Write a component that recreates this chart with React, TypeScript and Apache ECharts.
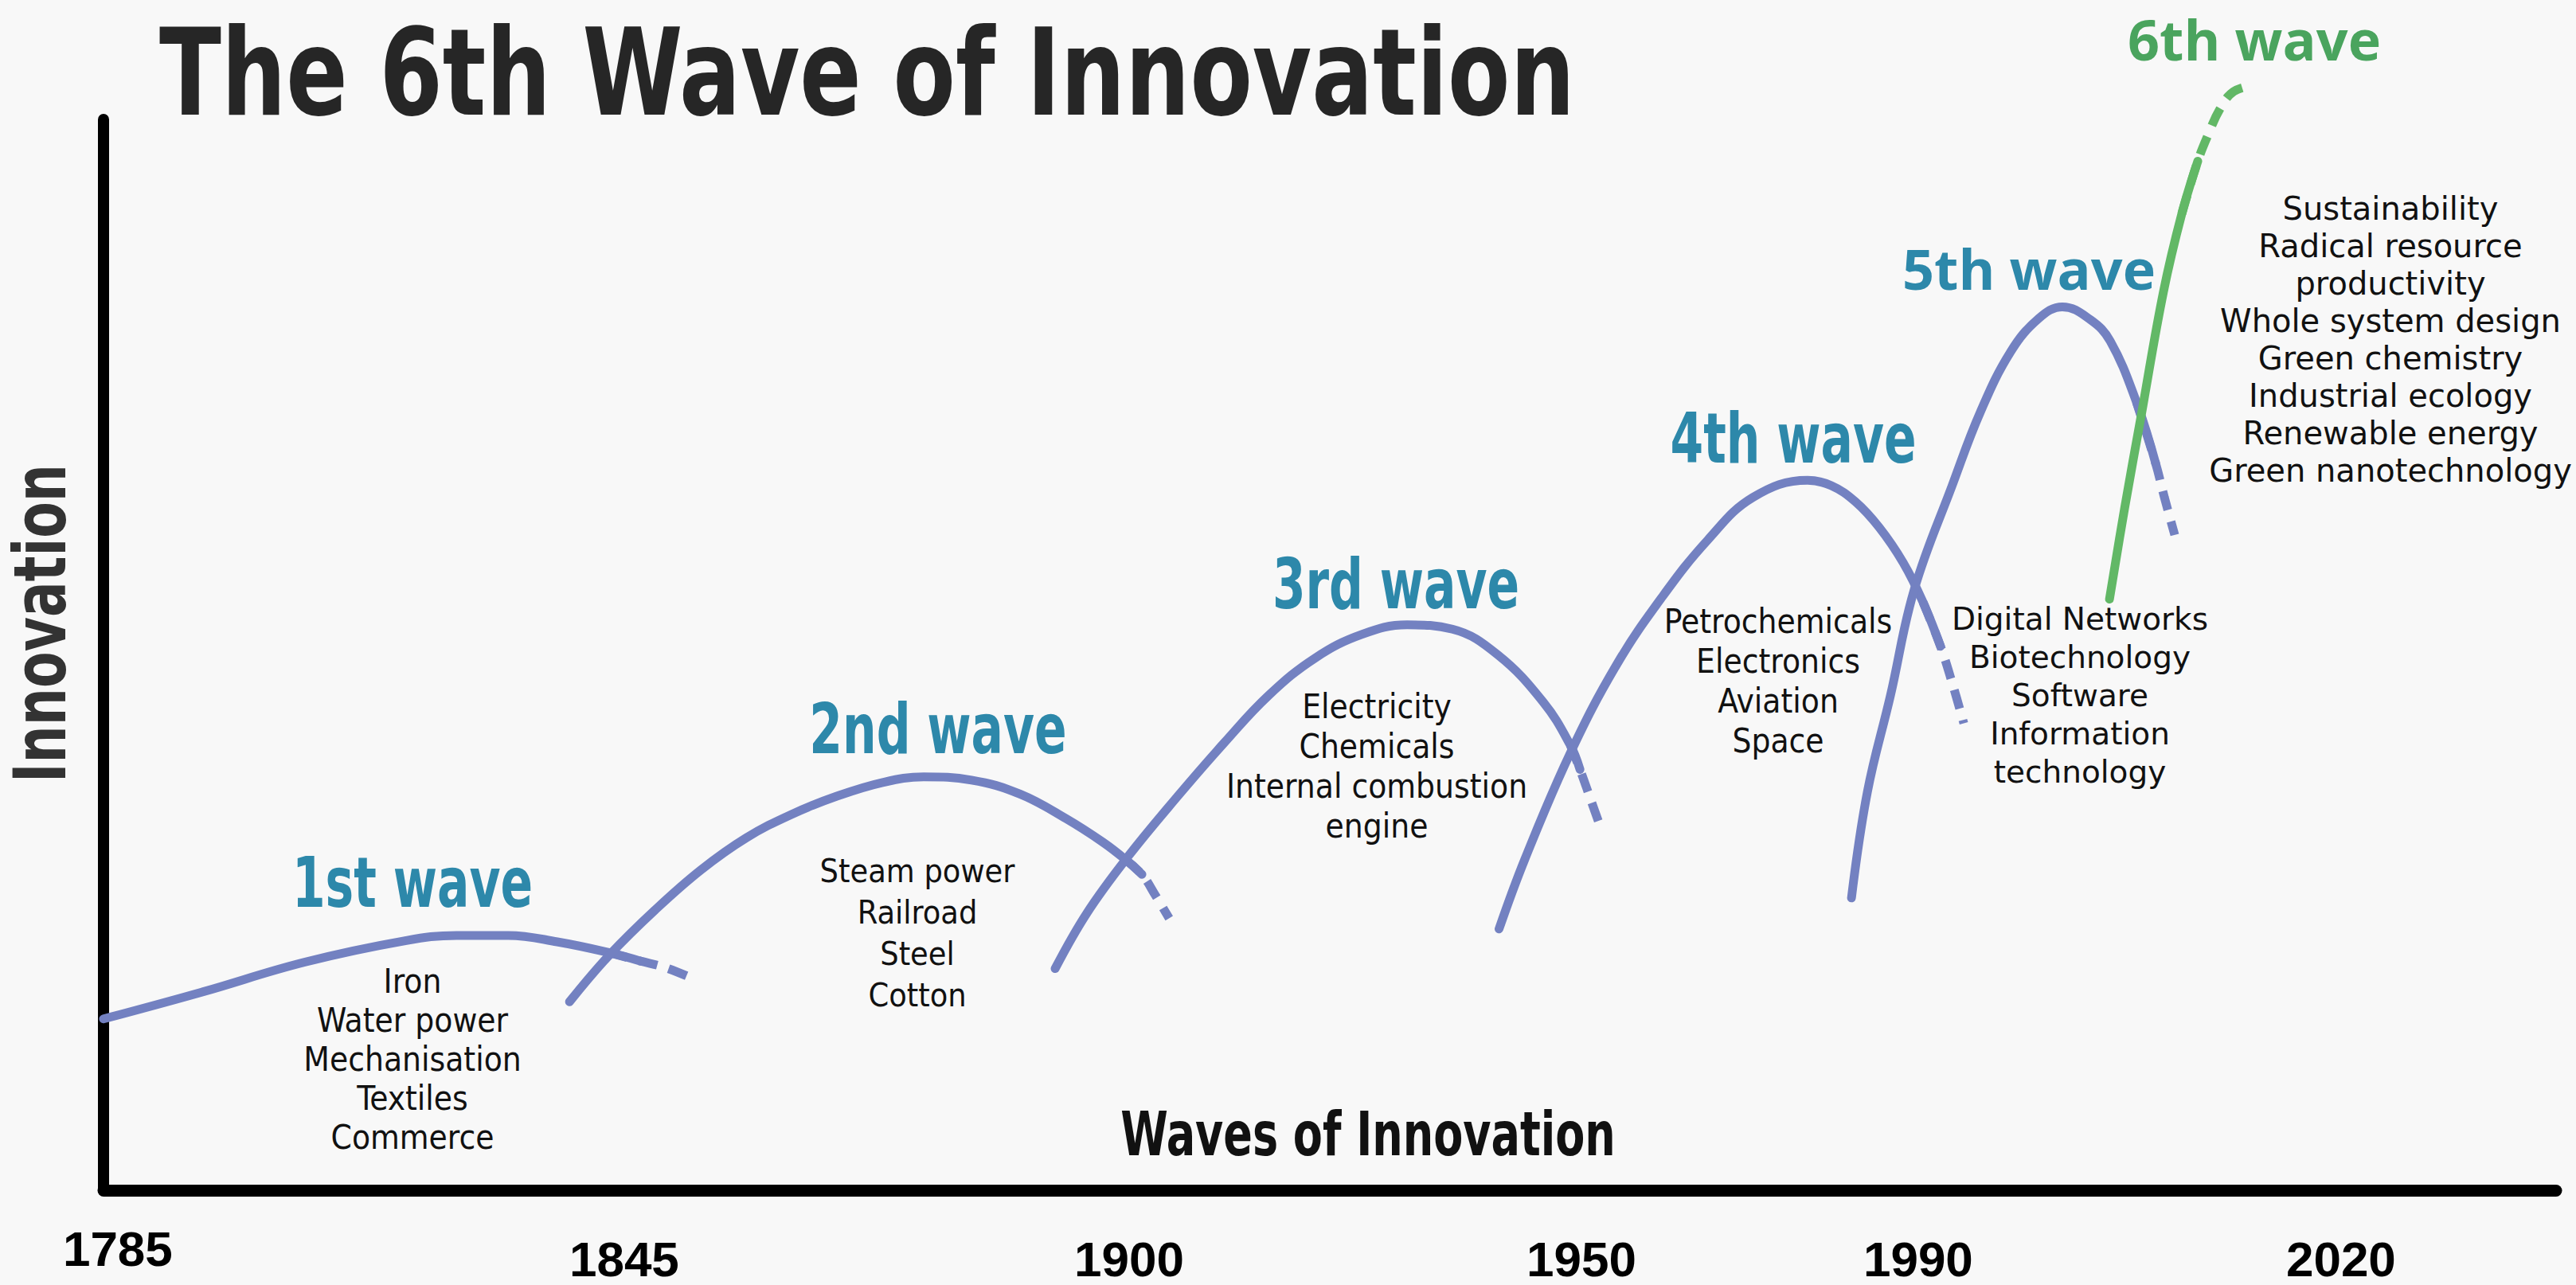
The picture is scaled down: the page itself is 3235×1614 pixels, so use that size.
import React, { useEffect, useRef } from "react";
import * as echarts from "echarts";

const W = 3235;
const H = 1614;

// ---------- data ----------
// x: position along the (non-linear) time axis, 0..1000 ; y: innovation level, 0..100
const yearLabels = ["1785", "1845", "1900", "1950", "1990", "2020"];
const yearPositions = [5.8, 212.3, 418.2, 602.6, 739.9, 912.3];

const waveNames = ["1st wave", "2nd wave", "3rd wave", "4th wave", "5th wave", "6th wave"];
const waveItems = [
  ["Iron", "Water power", "Mechanisation", "Textiles", "Commerce"],
  ["Steam power", "Railroad", "Steel", "Cotton"],
  ["Electricity", "Chemicals", "Internal combustion", "engine"],
  ["Petrochemicals", "Electronics", "Aviation", "Space"],
  ["Digital Networks", "Biotechnology", "Software", "Information", "technology"],
  [
    "Sustainability",
    "Radical resource",
    "productivity",
    "Whole system design",
    "Green chemistry",
    "Industrial ecology",
    "Renewable energy",
    "Green nanotechnology",
  ],
];

const wave1Solid = [[0, 16.0], [40, 18.5], [82, 21.3], [123, 23.3], [144, 23.8], [165, 23.8], [185, 23.2], [206, 22.2], [219, 21.4]];
const wave1Dashed = [[229, 20.8], [241, 19.7]];

const wave2Solid = [[190, 17.6], [206, 21.9], [225, 26.2], [243.5, 29.9], [262, 32.9], [280.5, 35.1], [299, 36.8], [318, 38.1], [334.4, 38.6], [353.9, 38.3], [373.7, 37.0], [392.5, 34.7], [407.5, 32.5], [416.6, 30.9], [423.4, 29.5]];
const wave2Dashed = [[429, 27.5], [434.5, 25.4]];

const wave3Solid = [[388, 20.7], [401, 25.9], [417.5, 31.1], [438, 36.8], [457, 41.8], [475, 46.2], [494, 49.7], [513, 51.9], [531.5, 52.8], [550, 52.4], [568.5, 50.0], [587, 45.6], [598, 41.6], [602, 39.3]];
const wave3Dashed = [[606.5, 36.4], [611, 33.5]];

const wave4Solid = [[569, 24.4], [579.5, 30.9], [598, 40.8], [617, 49.1], [635.5, 55.4], [654, 60.7], [672.5, 64.7], [694.8, 66.3], [704.5, 65.8], [714.3, 64.3], [724, 61.9], [733.8, 58.6], [741.9, 54.9], [749, 50.8]];
const wave4Dashed = [[754, 47.2], [758.5, 43.6]];

const wave5Solid = [[712.7, 27.3], [719.2, 37.2], [728.6, 46.2], [738.3, 56.1], [753.9, 65.9], [765.3, 72.7], [777.6, 78.3], [789, 81.4], [798.7, 82.5], [810.1, 81.3], [818.2, 79.3], [828.9, 73.6], [836.7, 67.9]];
const wave5Dashed = [[840.3, 64.7], [844.5, 61.2]];

const wave6Solid = [[817.9, 55.2], [824, 63.6], [830.8, 72.3], [839.9, 83.9], [847.4, 91.2], [853.9, 96.1]];
const wave6Dashed = [[857.8, 98.4], [863, 101.0], [868.5, 102.6], [876.6, 103.2]];

// ---------- styles / layout ----------
const COND = '"DejaVu Sans Condensed", "DejaVu Sans", sans-serif';
const DEJAVU = '"DejaVu Sans", sans-serif';
const LIB = '"Liberation Sans", Arial, sans-serif';
const OPEN = '"Open Sans", "Noto Sans", "DejaVu Sans", sans-serif';
const BLUE = "#7381c1";
const GREEN = "#62b866";
const TEAL = "#2d88aa";
const GREEN_TEXT = "#4aa45e";

const waveLabelPos = [
  [518, 1109],
  [1178, 916],
  [1753, 734],
  [2252, 551],
  [2548, 337],
  [2831, 49],
];
// x center, block center y, line height, font, font size
const itemLayout: [number, number, number, string, number][] = [
  [518, 1330, 49, COND, 42],
  [1152, 1172, 52, COND, 41],
  [1729, 962, 50, COND, 42],
  [2233, 855, 50, COND, 42],
  [2612, 873, 48, DEJAVU, 39],
  [3002, 426, 47, DEJAVU, 40],
];

function waveSeries(solid: number[][], dashed: number[][], color: string, z: number) {
  const n = solid.length;
  return [
    {
      type: "line",
      data: solid,
      smooth: 0.4,
      symbol: "none",
      clip: false,
      silent: true,
      z,
      lineStyle: { color, width: 11, cap: "round", join: "round" },
    },
    {
      type: "line",
      data: [solid[n - 2], solid[n - 1], ...dashed],
      smooth: 0.4,
      symbol: "none",
      clip: false,
      silent: true,
      z,
      lineStyle: { color, width: 11, type: [24, 15], cap: "butt" },
    },
  ];
}

function nearestYear(v: number) {
  let best = 0;
  for (let i = 1; i < yearPositions.length; i++) {
    if (Math.abs(yearPositions[i] - v) < Math.abs(yearPositions[best] - v)) best = i;
  }
  return best;
}

function textEl(x: number, y: number, text: string, style: any, extra: any = {}) {
  return {
    type: "text",
    x,
    y,
    ...extra,
    style: {
      text,
      align: "center",
      textAlign: "center",
      verticalAlign: "middle",
      textVerticalAlign: "middle",
      ...style,
    },
  };
}

function buildOption() {
  const graphic: any[] = [
    textEl(
      200,
      91,
      "The 6th Wave of Innovation",
      { fill: "#262626", fontFamily: COND, fontWeight: "bold", fontSize: 152, align: "left", textAlign: "left" },
      { scaleX: 0.835 }
    ),
    textEl(
      51,
      783,
      "Innovation",
      { fill: "#333", fontFamily: COND, fontWeight: "bold", fontSize: 90 },
      { rotation: Math.PI / 2, scaleX: 0.82 }
    ),
    textEl(
      1718,
      1424,
      "Waves of Innovation",
      { fill: "#111", fontFamily: COND, fontWeight: "bold", fontSize: 76 },
      { scaleX: 0.79 }
    ),
  ];
  waveNames.forEach((name, i) => {
    const wide = i >= 4;
    graphic.push(
      textEl(
        waveLabelPos[i][0],
        waveLabelPos[i][1],
        name,
        {
          fill: i === 5 ? GREEN_TEXT : TEAL,
          fontFamily: wide ? OPEN : COND,
          fontWeight: "bold",
          fontSize: wide ? 70 : 87,
        },
        wide ? {} : { scaleX: 0.765 }
      )
    );
  });
  waveItems.forEach((items, i) => {
    const [x, y, lh, font, size] = itemLayout[i];
    graphic.push(
      textEl(x, y, items.join("\n"), { fill: "#111", fontFamily: font, fontSize: size, lineHeight: lh })
    );
  });

  const labelBase = {
    fontFamily: LIB,
    fontWeight: "bold",
    fontSize: 62,
    color: "#000",
    verticalAlign: "top",
    hideOverlap: false,
    formatter: (v: number) => yearLabels[nearestYear(v)],
  };

  return {
    animation: false,
    backgroundColor: "#f8f8f8",
    grid: { left: 130, right: 25, top: 150, bottom: 119, containLabel: false },
    xAxis: [
      {
        type: "value",
        min: 0,
        max: 1000,
        position: "bottom",
        axisLine: { show: true, onZero: false, lineStyle: { color: "#000", width: 15, cap: "round" } },
        axisTick: { show: false },
        splitLine: { show: false },
        axisLabel: { ...labelBase, customValues: yearPositions.slice(1), margin: 57, lineHeight: 58 },
      },
      {
        type: "value",
        min: 0,
        max: 1000,
        position: "bottom",
        axisLine: { show: false },
        axisTick: { show: false },
        splitLine: { show: false },
        axisLabel: { ...labelBase, customValues: yearPositions.slice(0, 1), margin: 42, lineHeight: 62 },
      },
    ],
    yAxis: {
      type: "value",
      min: 0,
      max: 100,
      axisLine: { show: true, onZero: false, lineStyle: { color: "#000", width: 14, cap: "round" } },
      axisTick: { show: false },
      axisLabel: { show: false },
      splitLine: { show: false },
    },
    series: [
      ...waveSeries(wave1Solid, wave1Dashed, BLUE, 2),
      ...waveSeries(wave2Solid, wave2Dashed, BLUE, 2),
      ...waveSeries(wave3Solid, wave3Dashed, BLUE, 2),
      ...waveSeries(wave4Solid, wave4Dashed, BLUE, 2),
      ...waveSeries(wave5Solid, wave5Dashed, BLUE, 2),
      ...waveSeries(wave6Solid, wave6Dashed, GREEN, 3),
    ],
    graphic,
  };
}

export default function App() {
  const ref = useRef<HTMLDivElement>(null);
  useEffect(() => {
    if (!ref.current) return;
    const chart = echarts.init(ref.current, null, { renderer: "svg", width: W, height: H });
    chart.setOption(buildOption() as any);
    return () => chart.dispose();
  }, []);
  return (
    <div
      ref={ref}
      style={{ position: "fixed", left: 0, top: 0, width: W, height: H, background: "#f8f8f8" }}
    />
  );
}
